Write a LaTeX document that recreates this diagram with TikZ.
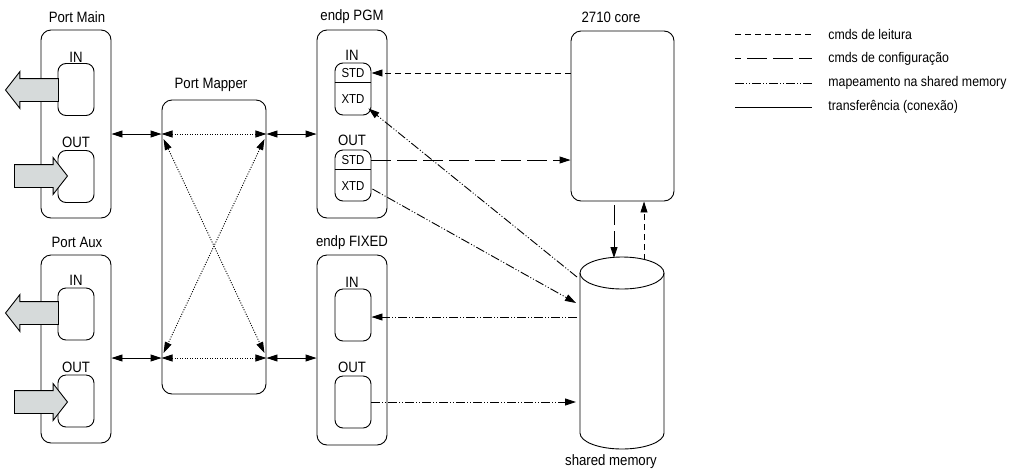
\documentclass[tikz,border=0pt]{standalone}
\usepackage{fontspec}
\setmainfont{Liberation Sans}[FakeStretch=0.88]
\usepackage{tikz}
\usetikzlibrary{calc}
\usetikzlibrary{shapes}
\usetikzlibrary{arrows.meta}

\definecolor{arrowgray}{RGB}{214,218,218}

\tikzset{
    box/.style={draw, rounded corners=10pt, minimum width=70pt, minimum height=188pt, inner sep=0pt},
    port/.style={draw, rounded corners=8pt, minimum width=36pt, minimum height=52pt, inner sep=0pt},
    txt/.style={font=\fontsize{15}{18}\selectfont, inner sep=0pt},
    small/.style={font=\fontsize{13}{15}\selectfont, inner sep=0pt},
    lgd/.style={font=\fontsize{14}{16}\selectfont, inner sep=0pt, anchor=west},
    bigarrow/.style={single arrow, draw, fill=arrowgray, minimum height=53pt, inner xsep=0pt, inner ysep=11pt,
        single arrow head extend=7pt, single arrow tip angle=104},
    readline/.style={dash pattern=on 6pt off 4pt},
    cfgline/.style={dash pattern=on 20pt off 6pt},
    mapline/.style={dash pattern=on 9pt off 2pt on 1pt off 2pt on 1pt off 2pt},
    dotline/.style={dash pattern=on 1pt off 1.5pt}
}

\begin{document}
\begin{tikzpicture}[x=1pt, y=-1pt, line width=0.9pt, >={Triangle[length=11pt,width=7pt]}]
        \useasboundingbox (0,0) rectangle (1019,469);

        \node (portmain) at (76,124) [box] {};
        \node (portmainlbl) at (77,17) [txt] {Port Main};
        \node (pmin) at (76,89.5) [port] {};
        \node (pminlbl) at (76,57) [txt] {IN};
        \node (pmout) at (76,176.5) [port] {};
        \node (pmoutlbl) at (76,142) [txt] {OUT};

        \node (portaux) at (76,349) [box] {};
        \node (portauxlbl) at (77,242) [txt] {Port Aux};
        \node (pain) at (76,314) [port] {};
        \node (painlbl) at (76,280) [txt] {IN};
        \node (paout) at (76,401) [port] {};
        \node (paoutlbl) at (76,367) [txt] {OUT};

        \node (pminarrow) at (36.5,90) [bigarrow, shape border rotate=180] {};
        \node (pmoutarrow) at (36.5,176) [bigarrow] {};
        \node (painarrow) at (36.5,313) [bigarrow, shape border rotate=180] {};
        \node (paoutarrow) at (36.5,402) [bigarrow] {};

        \node (mapper) at (214,247) [box, minimum width=104pt, minimum height=294pt] {};
        \node (mapperlbl) at (211,85) [txt] {Port Mapper};

        \node (pgm) at (352,124) [box] {};
        \node (pgmlbl) at (352,17) [txt] {endp PGM};
        \node (pgmin) at (353,89) [port] {};
        \node (pgminlbl) at (352,55) [txt] {IN};
        \node (pgminstd) at (353,73) [small] {STD};
        \node (pgminxtd) at (353,99) [small] {XTD};
        \draw (pgmin.west |- 0,82) -- (pgmin.east |- 0,82);
        \node (pgmout) at (353,175.5) [port, minimum height=51pt] {};
        \node (pgmoutlbl) at (352,140) [txt] {OUT};
        \node (pgmoutstd) at (353,160) [small] {STD};
        \node (pgmoutxtd) at (353,186) [small] {XTD};
        \draw (pgmout.west |- 0,169) -- (pgmout.east |- 0,169);

        \node (fixed) at (352,350) [box, minimum height=190pt] {};
        \node (fixedlbl) at (352,243) [txt] {endp FIXED};
        \node (fixedin) at (353,315) [port] {};
        \node (fixedinlbl) at (352,282) [txt] {IN};
        \node (fixedout) at (353,402) [port] {};
        \node (fixedoutlbl) at (352,367) [txt] {OUT};

        \node (core) at (622.5,116) [box, minimum width=103pt, minimum height=170pt] {};
        \node (corelbl) at (611,17) [txt] {2710 core};

        \draw (622,273) ellipse [x radius=42, y radius=16];
        \draw (580,273) -- (580,433) arc [start angle=180, end angle=0, x radius=42, y radius=16] -- (664,273);
        \node (shmemlbl) at (611,462) [txt] {shared memory};

        \coordinate (row1) at (0,134);
        \coordinate (row2) at (0,358);
        \coordinate (smtl) at (614,258);
        \coordinate (smtr) at (644,260);
        \coordinate (sma) at (577,277);
        \coordinate (smb) at (576,303);
        \coordinate (smc) at (577,317);
        \coordinate (smd) at (576,402);

        \draw [<->] (portmain.east |- row1) -- (mapper.west |- row1);
        \draw [<->] (portaux.east |- row2) -- (mapper.west |- row2);
        \draw [<->] (mapper.east |- row1) -- (pgm.west |- row1);
        \draw [<->] (mapper.east |- row2) -- (fixed.west |- row2);

        \draw [<->, dotline] (mapper.west |- row1) -- (mapper.east |- row1);
        \draw [<->, dotline] (mapper.west |- row2) -- (mapper.east |- row2);
        \draw [<->, dotline] ($(mapper.west |- row1)+(2,5)$) -- ($(mapper.east |- row2)+(-2,-5)$);
        \draw [<->, dotline] ($(mapper.east |- row1)+(-2,5)$) -- ($(mapper.west |- row2)+(2,-5)$);

        \draw [->, readline] (core.west |- pgminstd) -- (pgmin.east |- pgminstd);
        \draw [->, cfgline] (pgmout.east |- pgmoutstd) -- (core.west |- pgmoutstd);
        \draw [->, cfgline] ($(core.south -| smtl)+(0,4)$) -- (smtl);
        \draw [->, readline] (smtr) -- (core.south -| smtr);

        \draw [->, mapline] (sma) -- ([shift={(-3,-7)}]pgmin.south east);
        \draw [->, mapline] ($(pgmout.east |- pgmoutxtd)+(1,3)$) -- (smb);
        \draw [->, mapline] (smc) -- (fixedin.east |- smc);
        \draw [->, mapline] (fixedout.east |- smd) -- (smd);

        \node (lgdread) at (828,34) [lgd] {cmds de leitura};
        \node (lgdcfg) at (828,58.5) [lgd] {cmds de configuração};
        \node (lgdmap) at (828,83) [lgd] {mapeamento na shared memory};
        \node (lgdconn) at (828,107) [lgd] {transferência (conexão)};
        \draw [readline] ([xshift=-93pt]lgdread.west) -- ([xshift=-16pt]lgdread.west);
        \draw [cfgline, dash phase=14pt] ([xshift=-93pt]lgdcfg.west) -- ([xshift=-16pt]lgdcfg.west);
        \draw [mapline] ([xshift=-93pt]lgdmap.west) -- ([xshift=-16pt]lgdmap.west);
        \draw ([xshift=-93pt]lgdconn.west) -- ([xshift=-16pt]lgdconn.west);
    \end{tikzpicture}
\end{document}
